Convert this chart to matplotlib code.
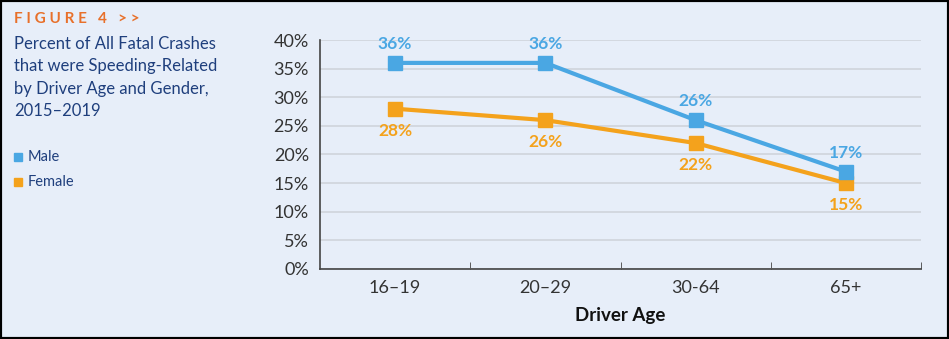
import matplotlib
matplotlib.use("Agg")
import matplotlib.pyplot as plt
from matplotlib.patches import Rectangle

# speeding-related share of fatal crashes by driver age
ages = ["16\u201319", "20\u201329", "30-64", "65+"]
male = [36, 36, 26, 17]
female = [28, 26, 22, 15]
yticks = [0, 5, 10, 15, 20, 25, 30, 35, 40]

bg = "#e7eef9"
blue = "#4aa7e3"
orange = "#f4a21c"
navy = "#1f3f7d"

plt.rcParams["font.family"] = ["Lato", "DejaVu Sans"]

fig = plt.figure(figsize=(9.49, 3.39), dpi=100)
fig.patch.set_facecolor(bg)
ax = fig.add_axes([0.3372, 0.2065, 0.6333, 0.6755])
ax.set_facecolor(bg)

x = list(range(len(ages)))
ax.plot(x, female, color=orange, lw=3, marker="s", ms=9.5, zorder=3)
ax.plot(x, male, color=blue, lw=3, marker="s", ms=9.5, zorder=4)

for i, v in enumerate(male):
    ax.annotate(f"{v}%", (i, v), xytext=(0, 8), textcoords="offset points",
                ha="center", va="bottom", color=blue, fontsize=12.5, fontweight="bold")
for i, v in enumerate(female):
    ax.annotate(f"{v}%", (i, v), xytext=(0, -10), textcoords="offset points",
                ha="center", va="top", color=orange, fontsize=12.5, fontweight="bold")

ax.set_xlim(-0.5, 3.5)
ax.set_ylim(0, 40)
ax.set_yticks(yticks)
ax.set_yticklabels([f"{t}%" for t in yticks], fontsize=13, color="#333333")
ax.grid(axis="y", color="#cfd4db", lw=1.2)
ax.set_axisbelow(True)
ax.tick_params(axis="y", length=0, pad=8)

ax.set_xticks(x)
ax.set_xticklabels(ages, fontsize=13, color="#333333")
ax.tick_params(axis="x", length=0, pad=8)
ax.set_xticks([0.5, 1.5, 2.5, 3.5], minor=True)
ax.tick_params(axis="x", which="minor", direction="in", length=5, color="#444444")
ax.set_xlabel("Driver Age", fontsize=13.5, fontweight="bold", color="#111111", labelpad=8)

for s in ["top", "right"]:
    ax.spines[s].set_visible(False)
ax.spines["left"].set_color("#444444")
ax.spines["bottom"].set_color("#444444")
ax.spines["left"].set_linewidth(1.2)
ax.spines["bottom"].set_linewidth(1.2)

# heading block on the left
fig.text(14 / 949, 1 - 19 / 339, "F I G U R E   4   > >", color="#e8702a",
         fontsize=11, fontweight="bold", va="center", ha="left")
title = "Percent of All Fatal Crashes\nthat were Speeding-Related\nby Driver Age and Gender,\n2015\u20132019"
fig.text(14 / 949, 1 - 36 / 339, title, color=navy, fontsize=12,
         va="top", ha="left", linespacing=1.5)

# legend squares
for label, col, yy in [("Male", blue, 157), ("Female", orange, 182)]:
    fig.patches.append(Rectangle((14 / 949, 1 - (yy + 4) / 339), 8 / 949, 8 / 339,
                                 transform=fig.transFigure, color=col))
    fig.text(28 / 949, 1 - yy / 339, label, color=navy, fontsize=10.5,
             va="center", ha="left")

# outer frame
fig.patches.append(Rectangle((0, 0), 1, 1, transform=fig.transFigure,
                             fill=False, ec="black", lw=3))

fig.savefig("out.png", dpi=100, facecolor=bg)
